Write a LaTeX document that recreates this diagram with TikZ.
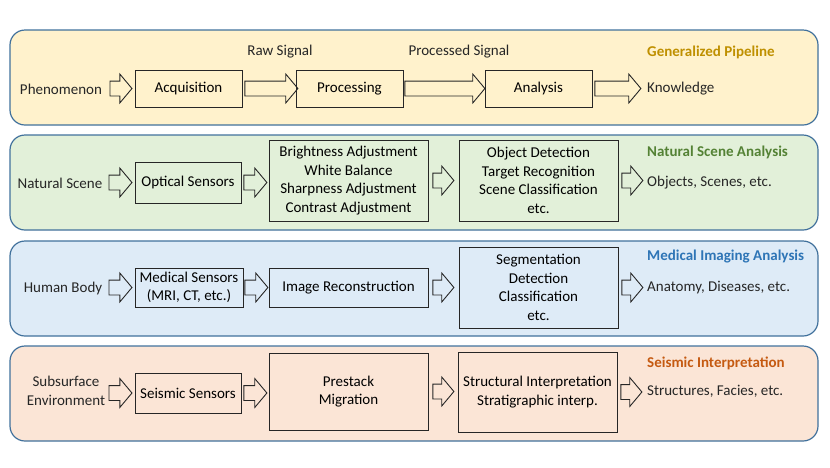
\documentclass[tikz,border=0pt]{standalone}
\usepackage{fontspec}
\setmainfont{Carlito}
\usepackage{xcolor}
\usetikzlibrary{shapes.arrows, positioning}

\definecolor{panelline}{HTML}{41719C}
\definecolor{boxline}{HTML}{262626}
\definecolor{pipeyellow}{HTML}{FFF2CC}
\definecolor{scenegreen}{HTML}{E2F0D9}
\definecolor{medblue}{HTML}{DEEBF7}
\definecolor{seisorange}{HTML}{FBE5D6}
\definecolor{goldtitle}{HTML}{BF9000}
\definecolor{greentitle}{HTML}{548235}
\definecolor{bluetitle}{HTML}{2E75B6}
\definecolor{orangetitle}{HTML}{C55A11}

\newcommand{\pipefont}{\fontsize{15}{18.5}\selectfont}

\begin{document}
\begin{tikzpicture}[
    x=1pt, y=-1pt,
    font=\pipefont,
    panel/.style={rectangle, draw=panelline, line width=1.2pt, rounded corners=15pt,
                  minimum width=808pt, minimum height=95pt, inner sep=0pt},
    stage/.style={rectangle, draw=boxline, line width=0.9pt, align=center,
                  inner sep=0pt, minimum height=37pt, minimum width=159pt},
    lbl/.style={inner sep=0pt, align=center, text=boxline},
    title/.style={inner sep=0pt, anchor=west, font=\pipefont\bfseries},
    barrow/.style={single arrow, draw=boxline, line width=0.9pt, inner sep=0pt,
                   text height=14pt, text depth=0pt, text width=0pt,
                   single arrow head extend=7pt, single arrow tip angle=100}
]
\useasboundingbox (0,0) rectangle (830,467);

% ---- Background panels ----
\node[panel, fill=pipeyellow] (pgen)  at (414,77.5)  {};
\node[panel, fill=scenegreen] (pnat)  at (414,182.5) {};
\node[panel, fill=medblue]    (pmed)  at (414,288.5) {};
\node[panel, fill=seisorange] (pseis) at (414,393.5) {};

% ---- Generalized pipeline ----
\node[lbl] (phen) at (61,89) {Phenomenon};
\node[stage, minimum width=107pt] (acq)  at (188.5,88.5) {Acquisition};
\node[stage, minimum width=107pt] (proc) at (349.5,88.5) {Processing};
\node[stage, minimum width=107pt] (ana)  at (538.5,88.5) {Analysis};
\node[lbl, anchor=west] (know) at (647,89) {Knowledge};
\node[lbl] (raw)     at (280,52) {Raw Signal};
\node[lbl] (procsig) at (459,52) {Processed Signal};
\node[title, text=goldtitle] (tgen) at (647,52) {Generalized Pipeline};

% ---- Natural scene analysis ----
\node[lbl] (nat) at (60,183) {Natural Scene};
\node[stage, minimum width=106pt, minimum height=41pt] (opt) at (188,182.5) {Optical Sensors};
\node[stage, minimum height=81pt] (adj) at (348.5,180.5)
    {Brightness Adjustment\\White Balance\\Sharpness Adjustment\\Contrast Adjustment};
\node[stage, minimum height=81pt] (objdet) at (538.5,180.5)
    {Object Detection\\Target Recognition\\Scene Classification\\etc.};
\node[lbl, anchor=west] (objs) at (647,183) {Objects, Scenes, etc.};
\node[title, text=greentitle] (tnat) at (647,152) {Natural Scene Analysis};

% ---- Medical imaging analysis ----
\node[lbl] (body) at (63,288) {Human Body};
\node[stage, minimum width=108pt, minimum height=39pt] (medsens) at (189,287.5)
    {Medical Sensors\\(MRI, CT, etc.)};
\node[stage, minimum height=39pt] (recon) at (348.5,287.5) {Image Reconstruction};
\node[stage, minimum height=81pt] (seg) at (538.5,287.5)
    {Segmentation\\Detection\\Classification\\etc.};
\node[lbl, anchor=west] (anat) at (647,288) {Anatomy, Diseases, etc.};
\node[title, text=bluetitle] (tmed) at (647,257) {Medical Imaging Analysis};

% ---- Seismic interpretation ----
\node[lbl] (subs) at (66,391) {Subsurface\\Environment};
\node[stage, minimum width=106pt, minimum height=40pt] (seissens) at (188,393) {Seismic Sensors};
\node[stage, minimum height=77pt] (mig) at (348.5,391.5) {Prestack\\Migration};
\node[stage, minimum height=80pt] (interp) at (537.5,392)
    {Structural Interpretation\\Stratigraphic interp.};
\node[lbl, anchor=west] (structs) at (647,391) {Structures, Facies, etc.};
\node[title, text=orangetitle] (tseis) at (647,363) {Seismic Interpretation};

% ======== Block arrows ========
\node[barrow, minimum height=22pt, left=2pt of acq]   (g1) {};
\node[barrow, minimum height=53pt, right=2pt of acq]  (g2) {};
\node[barrow, minimum height=80pt, right=1pt of proc] (g3) {};
\node[barrow, minimum height=46pt, right=2pt of ana]  (g4) {};

\node[barrow, minimum height=23pt, left=2pt of opt]    (n1) {};
\node[barrow, minimum height=23pt, right=2pt of opt]   (n2) {};
\node[barrow, minimum height=21pt, right=4pt of adj]   (n3) {};
\node[barrow, minimum height=21pt, right=3pt of objdet] (n4) {};

\node[barrow, minimum height=23pt, left=2pt of medsens]  (m1) {};
\node[barrow, minimum height=23pt, right=1pt of medsens] (m2) {};
\node[barrow, minimum height=21pt, right=4pt of recon]   (m3) {};
\node[barrow, minimum height=21pt, right=3pt of seg]     (m4) {};

\node[barrow, minimum height=23pt, left=2pt of seissens]  (s1) {};
\node[barrow, minimum height=23pt, right=2pt of seissens] (s2) {};
\node[barrow, minimum height=21pt, right=4pt of mig]      (s3) {};
\node[barrow, minimum height=21pt, right=3pt of interp]   (s4) {};

\end{tikzpicture}
\end{document}
